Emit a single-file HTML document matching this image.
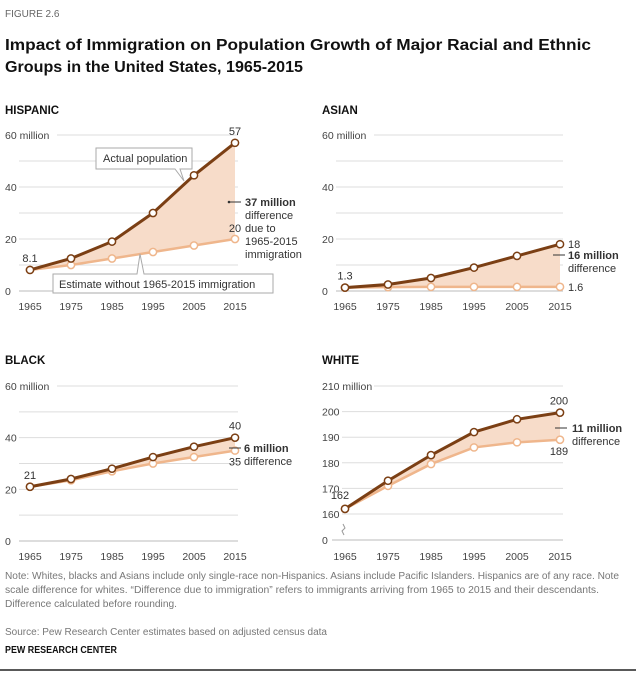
<!DOCTYPE html>
<html><head><meta charset="utf-8"><style>
body{margin:0;background:#fff}
svg{display:block;font-family:"Liberation Sans",sans-serif}
.t{font-size:11px;fill:#333}
.ax{font-size:10.5px;fill:#444}
</style></head><body>
<svg id="c" width="636" height="674">
<text x="5" y="17" font-size="10" fill="#666">FIGURE 2.6</text>
<text x="5" y="50" font-size="15.5" font-weight="bold" fill="#111" textLength="586" lengthAdjust="spacingAndGlyphs">Impact of Immigration on Population Growth of Major Racial and Ethnic</text>
<text x="5" y="72" font-size="15.5" font-weight="bold" fill="#111" textLength="298" lengthAdjust="spacingAndGlyphs">Groups in the United States, 1965-2015</text>
<text x="5" y="114" font-size="11.5" font-weight="bold" fill="#111">HISPANIC</text>
<text x="322" y="114" font-size="11.5" font-weight="bold" fill="#111">ASIAN</text>
<text x="5" y="364" font-size="11.5" font-weight="bold" fill="#111">BLACK</text>
<text x="322" y="364" font-size="11.5" font-weight="bold" fill="#111">WHITE</text>
<g id="plots"></g>
<g font-size="10" fill="#777">
<text x="5" y="579" textLength="614" lengthAdjust="spacingAndGlyphs">Note: Whites, blacks and Asians include only single-race non-Hispanics. Asians include Pacific Islanders. Hispanics are of any race. Note</text>
<text x="5" y="593" textLength="594" lengthAdjust="spacingAndGlyphs">scale difference for whites. “Difference due to immigration” refers to immigrants arriving from 1965 to 2015 and their descendants.</text>
<text x="5" y="607" textLength="172" lengthAdjust="spacingAndGlyphs">Difference calculated before rounding.</text>
<text x="5" y="635" textLength="322" lengthAdjust="spacingAndGlyphs">Source: Pew Research Center estimates based on adjusted census data</text>
</g>
<text x="5" y="653" font-size="10" font-weight="bold" fill="#111" textLength="112" lengthAdjust="spacingAndGlyphs">PEW RESEARCH CENTER</text>
<line x1="0" y1="670" x2="636" y2="670" stroke="#222" stroke-width="1.5"/>
</svg>
<script>
const years=[1965,1975,1985,1995,2005,2015];
const hispActual=[8.1,12.5,19,30,44.5,57];
const hispEst=[8.1,10,12.5,15,17.5,20];
const asianActual=[1.3,2.5,5,9,13.5,18];
const asianEst=[1.3,1.5,1.6,1.6,1.6,1.6];
const blackActual=[21,24,28,32.5,36.5,40];
const blackEst=[21,23.5,27,30,32.5,35];
const whiteActual=[162,173,183,192,197,199.6];
const whiteEst=[162,171,179.5,186,188,189];
const ns="http://www.w3.org/2000/svg";
const root=document.getElementById('plots');
function mk(tag,attrs,parent,txt){const e=document.createElementNS(ns,tag);for(const k in attrs)e.setAttribute(k,attrs[k]);if(txt!=null)e.textContent=txt;(parent||root).appendChild(e);return e;}
function panel(name,o){
  const g=mk('g',{});
  
  
  const xs=i=>o.x0+i*(o.x1-o.x0)/(years.length-1);
  const ys=v=>o.yb-(v-o.vmin)*(o.yb-o.yt)/(o.vmax-o.vmin);
  for(let v=o.vmin;v<=o.vmax;v+=o.minor){
    const gl=mk('line',{x1:(v===o.vmax?o.lx+52:o.lx+(String(v).length>2?20:14)),x2:o.x1+3,y1:ys(v),y2:ys(v),stroke:v===o.vmin&&!o.zeroY?'#bbb':'#ddd','stroke-width':1},g);
    
    
  }
  o.ticks.forEach(v=>{
    const t=mk('text',{x:o.lx,y:ys(v)+4,class:'ax'},g,v===o.vmax?v+' million':String(v));
    
    
  });
  if(o.zeroY){
    const zl=mk('line',{x1:o.lx+10,x2:o.x1+3,y1:o.zeroY,y2:o.zeroY,stroke:'#bbb'},g);
    
    
    const zt=mk('text',{x:o.lx,y:o.zeroY+4,class:'ax'},g,'0');
    
    
    const br=mk('path',{d:`M${o.x0-2} ${o.zeroY-16} l2 4 l-3 3 l2 4`,stroke:'#999',fill:'none'},g);
    
    
  }
  years.forEach((y,i)=>{
    const t=mk('text',{x:xs(i),y:o.xl,class:'ax','text-anchor':'middle'},g,String(y));
    
    
  });
  let d='';o.a.forEach((v,i)=>d+=(i?'L':'M')+xs(i)+' '+ys(v));
  for(let i=o.e.length-1;i>=0;i--)d+='L'+xs(i)+' '+ys(o.e[i]);
  const area=mk('path',{d:d+'Z',fill:'#f7dcc9'},g);
  
  
  [[o.e,'#efb68c',2.5,'estimate-line'],[o.a,'#7b3f14',3,'actual-line']].forEach(([arr,col,w,nm])=>{
    const pl=mk('polyline',{points:arr.map((v,i)=>xs(i)+','+ys(v)).join(' '),fill:'none',stroke:col,'stroke-width':w},g);
    
    
    arr.forEach((v,i)=>{
      const c=mk('circle',{cx:xs(i),cy:ys(v),r:3.6,fill:'#fff',stroke:col,'stroke-width':1.5},g);
      
      
    });
  });
  return {g,xs,ys};
}
const H=panel('hispanic',{x0:30,x1:235,yb:291,yt:135,vmin:0,vmax:60,minor:10,ticks:[0,20,40,60],lx:5,xl:310,a:hispActual,e:hispEst});
const A=panel('asian',{x0:345,x1:560,yb:291,yt:135,vmin:0,vmax:60,minor:10,ticks:[0,20,40,60],lx:322,xl:310,a:asianActual,e:asianEst});
const B=panel('black',{x0:30,x1:235,yb:541,yt:386,vmin:0,vmax:60,minor:10,ticks:[0,20,40,60],lx:5,xl:560,a:blackActual,e:blackEst});
const W=panel('white',{x0:345,x1:560,yb:514,yt:386,vmin:160,vmax:210,minor:10,ticks:[160,170,180,190,200,210],lx:322,xl:560,a:whiteActual,e:whiteEst,zeroY:540});
function lab(p,x,y,txt,opts,name){const t=mk('text',Object.assign({x:x,y:y,class:'t'},opts||{}),p.g,txt);return t;}
lab(H,H.xs(0),H.ys(hispActual[0])-8,String(hispActual[0]),{'text-anchor':'middle'},'hispanic-start-label');
lab(H,H.xs(5),H.ys(hispActual[5])-8,String(Math.round(hispActual[5])),{'text-anchor':'middle'},'hispanic-actual-end-label');
lab(H,H.xs(5),H.ys(hispEst[5])-7,String(Math.round(hispEst[5])),{'text-anchor':'middle'},'hispanic-estimate-end-label');
mk('line',{x1:229,x2:241,y1:202,y2:202,stroke:'#333'},H.g);
mk('circle',{cx:229,cy:202,r:1.3,fill:'#333'},H.g);
lab(H,245,206,'37 million',{'font-weight':'bold',fill:'#111'},'hispanic-difference-value');
['difference','due to','1965-2015','immigration'].forEach((s,i)=>lab(H,245,219+i*13,s,{},'hispanic-difference-text'));
const b1=mk('g',{},H.g);
mk('path',{d:'M96 148 H192 V169 H180 L184 181 L175 169 H96 Z',fill:'#fff',stroke:'#aaa'},b1);
mk('text',{x:103,y:162,class:'t'},b1,'Actual population');
const b2=mk('g',{},H.g);
mk('path',{d:'M53 274 H137 L140 254 L144 274 H273 V293 H53 Z',fill:'#fff',stroke:'#aaa'},b2);
mk('text',{x:59,y:288,class:'t'},b2,'Estimate without 1965-2015 immigration');
lab(A,A.xs(0),A.ys(asianActual[0])-8,String(asianActual[0]),{'text-anchor':'middle'},'asian-start-label');
lab(A,A.xs(5)+8,A.ys(asianActual[5])+4,String(asianActual[5]),{},'asian-actual-end-label');
lab(A,A.xs(5)+8,A.ys(asianEst[5])+4,String(asianEst[5]),{},'asian-estimate-end-label');
mk('line',{x1:553,x2:565,y1:255,y2:255,stroke:'#333'},A.g);
lab(A,568,259,'16 million',{'font-weight':'bold',fill:'#111'},'asian-difference-value');
lab(A,568,272,'difference',{},'asian-difference-text');
lab(B,B.xs(0),B.ys(blackActual[0])-8,String(blackActual[0]),{'text-anchor':'middle'},'black-start-label');
lab(B,B.xs(5),B.ys(blackActual[5])-8,String(blackActual[5]),{'text-anchor':'middle'},'black-actual-end-label');
lab(B,B.xs(5),B.ys(blackEst[5])+15,String(blackEst[5]),{'text-anchor':'middle'},'black-estimate-end-label');
mk('line',{x1:229,x2:241,y1:448,y2:448,stroke:'#333'},B.g);
lab(B,244,452,'6 million',{'font-weight':'bold',fill:'#111'},'black-difference-value');
lab(B,244,465,'difference',{},'black-difference-text');
lab(W,W.xs(0)-5,W.ys(whiteActual[0])-10,String(whiteActual[0]),{'text-anchor':'middle'},'white-start-label');
lab(W,W.xs(5)-1,W.ys(whiteActual[5])-8,String(Math.round(whiteActual[5])),{'text-anchor':'middle'},'white-actual-end-label');
lab(W,W.xs(5)-1,W.ys(whiteEst[5])+15,String(whiteEst[5]),{'text-anchor':'middle'},'white-estimate-end-label');
mk('line',{x1:555,x2:567,y1:428,y2:428,stroke:'#333'},W.g);
lab(W,572,432,'11 million',{'font-weight':'bold',fill:'#111'},'white-difference-value');
lab(W,572,445,'difference',{},'white-difference-text');
</script>
</body></html>
